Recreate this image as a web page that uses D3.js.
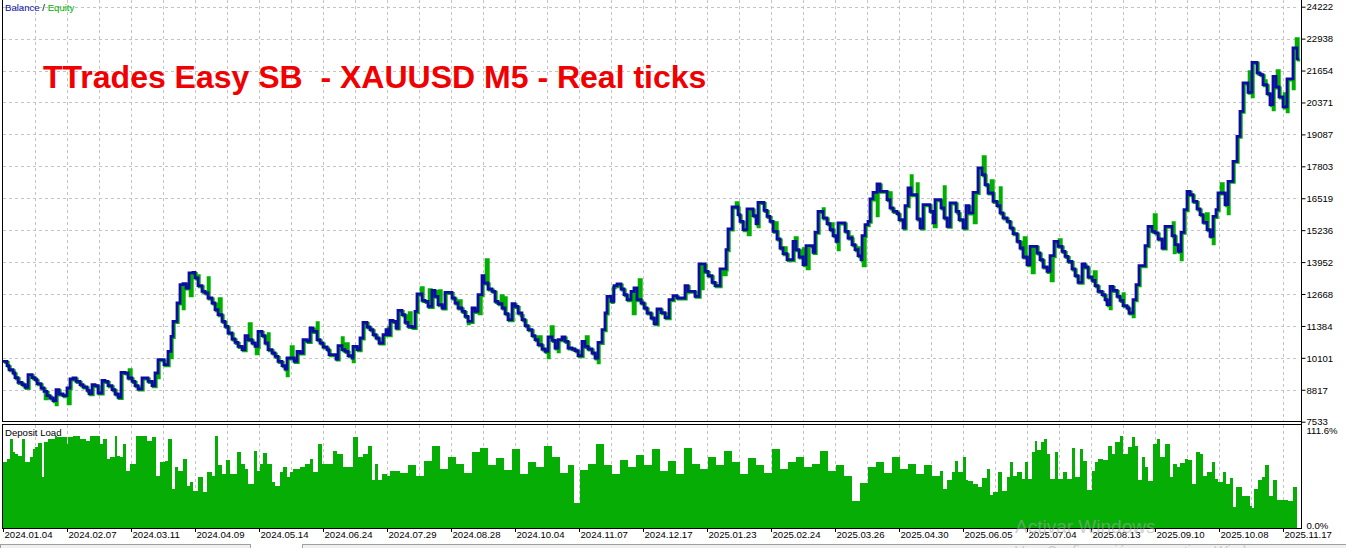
<!DOCTYPE html>
<html>
<head>
<meta charset="utf-8">
<script src="https://cdn.jsdelivr.net/npm/d3@7"></script>
<style>
  html, body { margin: 0; padding: 0; background: #ffffff; }
  svg { display: block; }
  text { font-family: "Liberation Sans", Arial, sans-serif; }
</style>
</head>
<body>
<svg id="chart" width="1346" height="548"></svg>
<script>
// ---------------- DATA ----------------
const chartTitle = "TTrades Easy SB  - XAUUSD M5 - Real ticks";

// balance curve: deal number -> balance
const balanceDeals = [0,4,6,10,12,15,19,22,25,29,32,34,38,41,44,47,50,53,56,60,64,67,70,73,77,80,84,86,89,92,95,99,102,105,109,112,115,118,122,125,129,132,135,139,145,149,152,155,161,165,168,170,174,177,180,183,186,190,192,195,199,202,205,209,212,215,219,222,225,229,232,235,239,242,245,249,252,255,259,262,265,269,272,275,279,282,284,291,294,297,300,304,307,310,314,317,320,324,326,333,335,339,342,345,349,350,354,357,360,364,367,370,373,376,380,383,385,387,390,393,395,399,402,405,409,412,414,419,422,425,429,432,435,439,442,449,452,455,459,462,465,469,472,475,479,481,485,489,492,495,499,502,505,509,512,515,519,522,525,529,532,535,539,542,545,549,552,555,559,562,565,569,572,575,579,582,585,589,592,595,599,602,604,608,611,614,618,621,624,628,631,634,638,641,644,648,651,654,658,662,666,670,674,682,685,692,696,702,705,709,712,717,723,725,729,735,737,740,744,750,753,755,761,764,767,770,774,777,780,784,790,793,796,800,803,810,812,815,820,824,827,830,833,835,842,845,849,852,855,858,859,862,865,867,870,874,877,884,887,890,894,896,900,902,905,908,914,917,920,927,930,932,938,941,944,947,953,956,960,963,966,970,975,979,982,985,990,994,997,1000,1004,1007,1010,1014,1017,1020,1024,1027,1034,1037,1040,1044,1047,1051,1055,1059,1062,1065,1069,1072,1075,1079,1082,1085,1089,1092,1095,1099,1102,1104,1107,1110,1114,1117,1120,1124,1126,1130,1133,1136,1142,1145,1149,1152,1155,1159,1162,1169,1172,1175,1178,1181,1184,1187,1190,1194,1197,1200,1204,1207,1210,1213,1215,1222,1225,1230,1234,1237,1240,1245,1249,1254,1257,1260,1264,1267,1270,1273,1276,1280,1284,1290,1294,1296];
const balanceValues = [9958,9785,9624,9492,9303,9114,9021,8913,9423,9303,9222,9061,8888,8752,8579,8486,8378,8820,8647,8579,8888,9250,9291,9154,9021,8929,8792,8659,9021,8981,8687,9194,9154,8981,8820,8647,8510,9516,9492,9291,9154,8981,8848,9291,9154,8981,9492,10027,9826,10360,10964,11567,12307,13043,13083,12910,13514,13538,13313,13003,12774,12709,12508,12307,12038,11837,11567,11366,11100,10859,10722,10562,10429,10992,10831,10698,10562,11165,10992,10698,10429,10296,10159,9958,9785,9653,10095,9958,10360,10296,10831,10763,11302,11165,10831,10698,10537,10429,10228,10055,10590,10429,10360,10188,10095,10562,10429,10899,11527,11342,11233,11032,10899,10698,11032,11233,11032,11607,11567,11302,12009,11837,11527,11366,11326,11969,12669,12412,12371,12170,12814,12573,12239,12106,12733,12508,12307,12106,11969,11768,11567,12106,11969,12641,13405,13111,12870,12774,12371,12279,12106,11877,11635,12279,12170,11905,11635,11394,11233,10992,10831,10630,10457,10360,10940,10803,10497,10831,10940,10763,10497,10457,10389,10188,10763,10562,10457,10296,10095,10722,11233,11905,12573,12371,13003,13071,12870,12641,12440,12774,12910,12440,12307,12106,11905,11704,11474,12066,11917,11716,12440,12601,12508,13003,12774,12573,13876,13578,13405,13136,13003,13675,14451,15283,16168,15859,15589,15255,16088,15818,15497,16353,16031,15790,15589,15187,14881,14519,14290,14049,14785,14451,14157,13848,14612,14342,15147,15991,15726,15497,15255,15014,14785,15525,15187,14921,14652,14451,14210,14049,15014,15456,15589,16490,16755,17093,16796,16462,16128,15991,15899,15657,15324,16221,16932,16663,15686,15324,16261,15991,15525,16462,16128,15726,15388,16329,15991,15657,15324,16221,15927,16755,17737,17467,17065,16731,16393,16221,15927,15726,15589,15324,15094,14785,14519,14157,13848,14584,14318,14049,13755,13578,14210,14785,14584,14382,14181,13980,13675,13405,13136,13876,13755,13353,13216,13003,12774,12641,12440,12239,12975,12814,12573,12412,12199,12106,11905,12440,13043,13807,14612,15388,15187,15123,14881,14519,15388,15014,14652,14382,15147,16060,16796,16663,16393,16088,15859,15549,15255,14986,15790,16060,16731,16261,17198,18002,19008,20013,21155,20777,21984,21558,21489,21087,20725,20283,21421,20995,20592,20190,21316,22563,22121,22121];

// equity excursions while trades were open: deal -> equity
const equitySpikeDeals = [41,52,64,125,154,167,179,186,194,204,215,245,252,264,283,287,313,338,342,349,384,405,417,425,435,455,464,475,482,497,500,517,535,544,547,554,582,594,609,629,635,697,720,732,744,754,771,780,791,799,803,819,827,834,846,854,859,873,885,907,913,930,940,954,970,979,987,996,1020,1028,1047,1055,1090,1106,1119,1129,1150,1169,1170,1177,1202,1209,1217,1224,1245,1248,1260,1269,1273,1280,1283,1289,1292];
const equitySpikeValues = [8498,8257,8297,9665,9343,10147,12118,12641,13445,13365,12520,11515,10308,11113,9423,10590,11555,10952,10710,9986,11354,11957,12963,12882,12842,12440,11515,11917,14089,12641,12560,11837,10992,10147,11394,10389,10992,9946,12963,11917,13284,12922,13486,16381,15094,15416,15577,14572,14974,14531,13727,16140,15537,14491,15014,14572,13848,15859,16784,17467,17146,15416,17025,15939,15577,18232,17266,16985,14974,13566,13244,14893,13606,12118,12721,11796,15899,15577,14370,14089,15939,14732,17146,15939,21650,20645,21288,20122,21690,20765,20041,20966,22977];

// deposit load (%) per deal segment
const loadDeals = [0,4,7,10,12,15,19,22,27,30,32,35,39,41,45,52,54,64,65,70,77,83,87,97,100,104,107,112,114,117,120,123,127,133,144,149,153,157,162,165,169,172,175,180,184,187,190,195,200,204,209,212,215,219,223,227,234,238,242,245,251,254,257,260,264,269,272,277,280,284,287,290,297,302,307,310,315,319,330,334,340,350,355,360,365,369,372,375,379,384,387,397,405,413,421,429,437,445,453,461,469,477,485,493,501,509,517,525,533,541,549,557,565,571,577,585,593,601,609,617,625,633,641,649,657,665,673,681,689,697,705,713,721,729,737,745,753,761,769,777,785,793,801,809,817,825,833,841,849,857,865,873,881,889,897,905,913,921,929,937,940,944,949,952,955,960,963,965,970,975,979,984,987,990,995,999,1004,1007,1010,1014,1019,1022,1025,1029,1032,1034,1038,1041,1044,1047,1052,1055,1060,1064,1069,1072,1077,1080,1084,1089,1092,1095,1100,1105,1109,1112,1117,1120,1125,1129,1132,1135,1139,1142,1145,1150,1154,1157,1162,1167,1170,1174,1177,1182,1185,1189,1193,1197,1200,1204,1209,1212,1215,1220,1223,1227,1230,1233,1239,1242,1247,1249,1251,1255,1259,1262,1266,1270,1274,1285,1290];
const loadValues = [73.6,77.4,100,84.9,83,81,100,73.6,79,88.7,90.5,95,56.7,96,100,103.7,101.8,94.3,101.8,103.7,100,98,103.7,94.3,100,77.4,79,103.7,81,79,94.3,64.2,71.8,103.7,98,101.8,58.6,73.6,75.5,100,43.6,68,64.2,77.4,47.3,51,41.7,56.7,39.8,62.3,58.6,102.6,69.9,60.4,76.3,60.4,84.9,71.8,66.2,49.3,86.8,64.2,71.8,83.8,71.8,51,47.3,62.3,68,56.7,62.3,66.2,68,71.8,77.4,62.3,94.3,71.8,86.8,83,68,101.8,79,83,92.4,53,71.8,53,60.4,58.6,64.2,62,70,58,75,92,66,80,72,62,85,90,70,78,65,88,60,74,68,92,80,62,70,28,65,72,94,70,60,76,68,82,70,88,64,75,60,90,72,66,80,70,86,74,60,78,70,62,88,66,74,80,68,72,86,64,70,58,30,50,68,74,62,80,66,72,60,70,58,64.2,43.6,53,62.3,75.5,62.3,80,53,52.2,49.3,45.4,56,66.2,37.2,39.8,62.3,41.7,56.7,73.6,57.5,62.3,55,73.6,55,84.9,98,87.6,96,100,83,55,84.9,55,62.3,55,89.5,56.7,88.7,75.5,42.5,64.2,73.6,77.4,76.3,92.4,83,96,102.6,83,90.5,101.8,91.5,53,80,68,52.2,94.3,100,79,94.3,56.7,71.8,68,72.5,77.4,76.3,49.3,84.9,83,58.6,62.3,73.6,55,51,62.3,49.3,56,22.9,45.4,35,36,24.8,22,43.6,53,56.7,69.9,36,53,31.2,30,45.4];
const loadEndDeal = 1294;

const balanceTicks = [7533,8817,10101,11384,12668,13952,15236,16519,17803,19087,20371,21654,22938,24222];
const loadTickLabels = ["111.6%","0.0%"];
const loadTickValues = [111.6, 0];
const dateLabels = ["2024.01.04","2024.02.07","2024.03.11","2024.04.09","2024.05.14","2024.06.24","2024.07.29","2024.08.28","2024.10.04","2024.11.07","2024.12.17","2025.01.23","2025.02.24","2025.03.26","2025.04.30","2025.06.05","2025.07.04","2025.08.13","2025.09.10","2025.10.08","2025.11.17"];
const dealsPerLabel = 64;
const dealsPerGrid = 32;
const lastDeal = 1296;

// ---------------- LAYOUT ----------------
const C = {
  balance: "#0c0ca4",
  equity: "#00b000",
  load: "#05ad05",
  grid: "#c4c4c4",
  title: "#f00000"
};
const svg = d3.select("#chart");
const x = d3.scaleLinear().domain([0, lastDeal]).range([3, 1299]);
const yMain = d3.scaleLinear().domain([7533, 24222]).range([421.7, 6.7]);
const yLoad = d3.scaleLinear().domain([0, 111.6]).range([527.5, 428.5]);
const axisX = 1301.5;
const mainTop = 0, mainBottom = 421.5, loadTop = 424.5, loadBottom = 528;

svg.append("rect").attr("width", 1346).attr("height", 548).attr("fill", "#fff");

const defs = svg.append("defs");
defs.append("clipPath").attr("id", "clipMain").append("rect")
  .attr("x", 2.5).attr("y", 0).attr("width", axisX - 2.5).attr("height", mainBottom);
defs.append("clipPath").attr("id", "clipLoad").append("rect")
  .attr("x", 2.5).attr("y", loadTop).attr("width", axisX - 2.5).attr("height", loadBottom - loadTop);

// grid
const gridDeals = d3.range(dealsPerGrid, lastDeal, dealsPerGrid);
const grid = svg.append("g").attr("stroke", C.grid).attr("stroke-dasharray", "3,3")
  .attr("stroke-width", 1).attr("shape-rendering", "crispEdges");
grid.selectAll("line.v").data(gridDeals).join("line")
  .attr("x1", d => Math.round(x(d)) + 0.5).attr("x2", d => Math.round(x(d)) + 0.5)
  .attr("y1", mainTop).attr("y2", mainBottom);
grid.selectAll("line.v2").data(gridDeals).join("line")
  .attr("x1", d => Math.round(x(d)) + 0.5).attr("x2", d => Math.round(x(d)) + 0.5)
  .attr("y1", loadTop).attr("y2", loadBottom);
grid.selectAll("line.h").data(balanceTicks.slice(1)).join("line")
  .attr("x1", 3).attr("x2", axisX - 3)
  .attr("y1", d => Math.round(yMain(d)) + 0.5).attr("y2", d => Math.round(yMain(d)) + 0.5);

// deposit load bars
const loadBars = loadDeals.map((d, i) => ({
  d0: d, d1: i < loadDeals.length - 1 ? loadDeals[i + 1] : loadEndDeal, v: loadValues[i]
}));
svg.append("g").attr("clip-path", "url(#clipLoad)").attr("shape-rendering", "crispEdges")
  .selectAll("rect").data(loadBars).join("rect")
  .attr("x", d => x(d.d0)).attr("width", d => x(d.d1) - x(d.d0) + 0.3)
  .attr("y", d => yLoad(d.v)).attr("height", d => yLoad(0) - yLoad(d.v))
  .attr("fill", C.load);

// balance & equity
const balancePts = balanceDeals.map((d, i) => ({ d, v: balanceValues[i] }));
const balanceAt = deal => {
  let v = balanceValues[0];
  for (let i = 0; i < balanceDeals.length && balanceDeals[i] <= deal; i++) v = balanceValues[i];
  return v;
};
const equityPts = balancePts.slice();
equitySpikeDeals.forEach((d, i) => {
  equityPts.push({ d: d + 0.01, v: equitySpikeValues[i] });
  equityPts.push({ d: d + 2, v: balanceAt(d + 2) });
});
equityPts.sort((a, b) => a.d - b.d);

const line = d3.line().x(p => x(p.d)).y(p => yMain(p.v)).curve(d3.curveStepAfter);
const plot = svg.append("g").attr("clip-path", "url(#clipMain)");
plot.append("path").datum(equityPts).attr("d", line)
  .attr("fill", "none").attr("stroke", C.equity).attr("stroke-width", 3)
  .attr("transform", "translate(1.2,1)");
plot.append("path").datum(balancePts).attr("d", line)
  .attr("fill", "none").attr("stroke", C.balance).attr("stroke-width", 2.8)
  .attr("stroke-linejoin", "miter");

// frames
const frame = svg.append("g").attr("stroke", "#000").attr("stroke-width", 1).attr("fill", "none")
  .attr("shape-rendering", "crispEdges");
frame.append("line").attr("x1", 2.5).attr("x2", 2.5).attr("y1", 0).attr("y2", mainBottom);
frame.append("line").attr("x1", 2.5).attr("x2", axisX).attr("y1", mainBottom).attr("y2", mainBottom);
frame.append("rect").attr("x", 2.5).attr("y", loadTop).attr("width", axisX - 2.5).attr("height", loadBottom - loadTop);
frame.append("line").attr("x1", axisX).attr("x2", axisX).attr("y1", 0).attr("y2", loadBottom);

// right axis (balance)
const axisMain = d3.axisRight(yMain).tickValues(balanceTicks).tickSize(4).tickPadding(1).tickFormat(d3.format("d"));
const gMain = svg.append("g").attr("transform", `translate(${axisX},0)`).call(axisMain);
gMain.select(".domain").remove();
gMain.selectAll("line").attr("stroke", "#000");
gMain.selectAll("text").attr("font-size", 9.6).attr("fill", "#000")
  .attr("font-family", "'Liberation Sans', Arial, sans-serif").attr("dy", "0.34em");

// right axis (load)
const gLoad = svg.append("g").attr("transform", `translate(${axisX},0)`);
gLoad.selectAll("text").data(loadTickValues).join("text")
  .attr("x", 5).attr("y", (d, i) => i === 0 ? 431 : 526)
  .attr("dy", "0.34em").attr("font-size", 9.6).attr("fill", "#000")
  .text((d, i) => loadTickLabels[i]);

// date axis
const labelDeals = dateLabels.map((_, i) => i * dealsPerLabel);
const gx = svg.append("g").attr("transform", `translate(0,${loadBottom})`);
gx.selectAll("line").data(labelDeals).join("line")
  .attr("x1", d => Math.round(x(d)) + 0.5).attr("x2", d => Math.round(x(d)) + 0.5)
  .attr("y1", 0).attr("y2", 4).attr("stroke", "#000").attr("shape-rendering", "crispEdges");
gx.selectAll("text").data(labelDeals).join("text")
  .attr("x", d => x(d) + 1.5).attr("y", 7).attr("dy", "0.34em")
  .attr("font-size", 9.6).attr("fill", "#000")
  .text((d, i) => dateLabels[i]);

// legends
const leg = svg.append("text").attr("x", 5).attr("y", 7.5).attr("dy", "0.34em").attr("font-size", 9.6);
leg.append("tspan").attr("fill", C.balance).text("Balance");
leg.append("tspan").attr("fill", "#000").text(" / ");
leg.append("tspan").attr("fill", C.equity).text("Equity");
svg.append("text").attr("x", 5).attr("y", 432.5).attr("dy", "0.34em").attr("font-size", 9.6)
  .attr("fill", "#000").text("Deposit Load");

// title
svg.append("text").attr("x", 43).attr("y", 87.5)
  .attr("font-size", 32).attr("font-weight", "bold").attr("fill", C.title)
  .style("white-space", "pre").text(chartTitle);

// bottom scrollbar strip
const strip = svg.append("g").attr("shape-rendering", "crispEdges");
strip.append("rect").attr("x", 0.5).attr("y", 544.5).attr("width", 250).attr("height", 8)
  .attr("fill", "#f0f0f0").attr("stroke", "#a0a0a0");
strip.append("rect").attr("x", 302.5).attr("y", 544.5).attr("width", 1050).attr("height", 8)
  .attr("fill", "#f0f0f0").attr("stroke", "#a0a0a0");

// OS watermark
svg.append("text").attr("x", 1015).attr("y", 533).attr("font-size", 19)
  .attr("font-family", "'Open Sans', 'Noto Sans', sans-serif")
  .attr("fill", "#a8a8a8").attr("fill-opacity", 0.55).text("Activar Windows");
svg.append("text").attr("x", 1015).attr("y", 556).attr("font-size", 14)
  .attr("font-family", "'Open Sans', 'Noto Sans', sans-serif")
  .attr("fill", "#a8a8a8").attr("fill-opacity", 0.5).text("Ve a Configuración para activar Windows");
</script>
</body>
</html>
